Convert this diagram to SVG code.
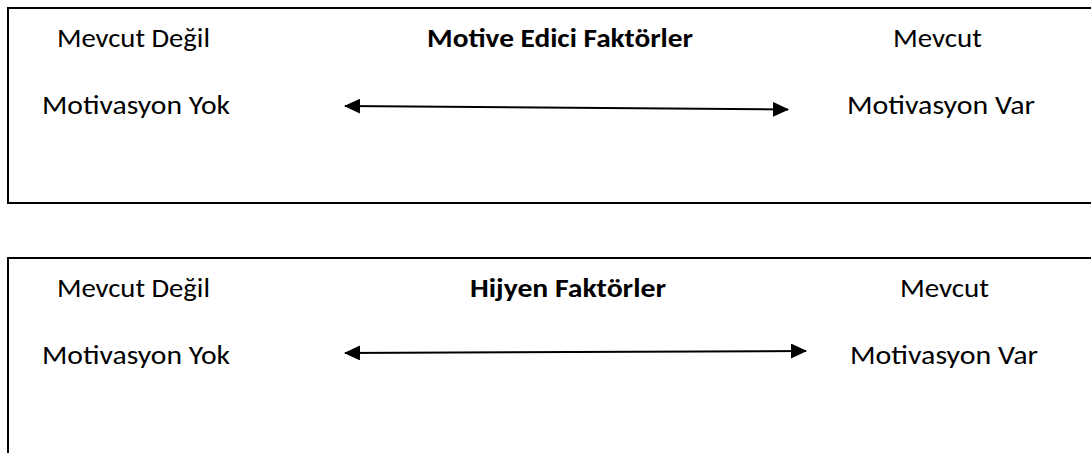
<svg xmlns="http://www.w3.org/2000/svg" width="1091" height="453" viewBox="0 0 1091 453">
<style>
.box{fill:none;stroke:#000;stroke-width:2}
.t{font-family:"Carlito","Calibri","Open Sans",sans-serif;font-size:27px;fill:#000}
.b{font-weight:bold}
.arr{stroke:#000;stroke-width:2;fill:none;marker-start:url(#ah);marker-end:url(#ah)}
</style>
<defs>
<marker id="ah" markerUnits="userSpaceOnUse" markerWidth="16" markerHeight="15" refX="15" refY="7.5" orient="auto-start-reverse">
<path d="M0,0 L16,7.5 L0,15 z" fill="#000"/>
</marker>
</defs>
<rect width="1091" height="453" fill="#fff"/>
<g id="motive-box">
<rect class="box" x="8" y="8" width="1090" height="195"/>
<text class="t" x="57" y="47" textLength="153" lengthAdjust="spacingAndGlyphs">Mevcut Değil</text>
<text class="t b" x="427" y="47" textLength="266" lengthAdjust="spacingAndGlyphs">Motive Edici Faktörler</text>
<text class="t" x="893" y="47" textLength="89" lengthAdjust="spacingAndGlyphs">Mevcut</text>
<text class="t" x="42" y="114" textLength="188" lengthAdjust="spacingAndGlyphs">Motivasyon Yok</text>
<text class="t" x="847" y="114" textLength="188" lengthAdjust="spacingAndGlyphs">Motivasyon Var</text>
</g>
<g id="hijyen-box">
<path class="box" d="M1098,258 H8 V460"/>
<text class="t" x="57" y="297" textLength="153" lengthAdjust="spacingAndGlyphs">Mevcut Değil</text>
<text class="t b" x="470" y="297" textLength="196" lengthAdjust="spacingAndGlyphs">Hijyen Faktörler</text>
<text class="t" x="900" y="297" textLength="89" lengthAdjust="spacingAndGlyphs">Mevcut</text>
<text class="t" x="42" y="364" textLength="188" lengthAdjust="spacingAndGlyphs">Motivasyon Yok</text>
<text class="t" x="850" y="364" textLength="188" lengthAdjust="spacingAndGlyphs">Motivasyon Var</text>
</g>
<g id="connectors">
<line class="arr" x1="345" y1="106" x2="788" y2="109.5"/>
<line class="arr" x1="345" y1="353" x2="806" y2="351"/>
</g>
</svg>
